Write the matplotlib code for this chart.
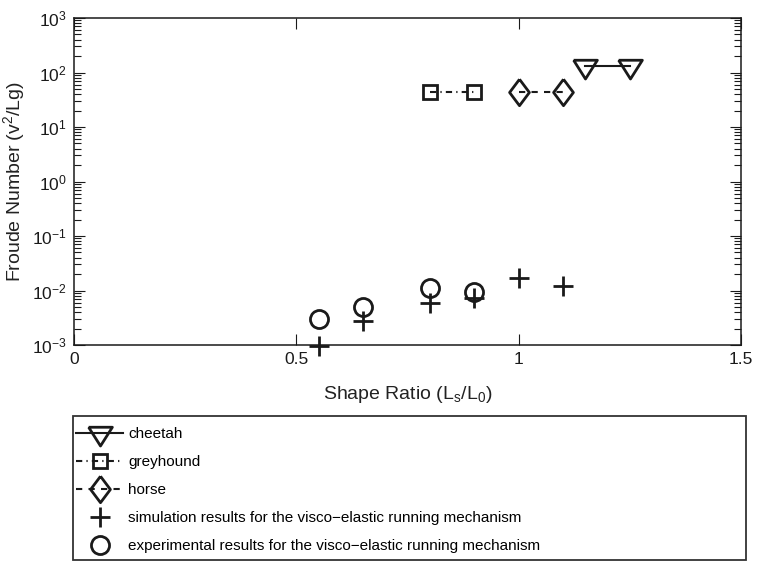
import numpy as np
import matplotlib
matplotlib.use("Agg")
import matplotlib.pyplot as plt
from matplotlib.patches import Rectangle
from matplotlib.ticker import FixedLocator, LogLocator, NullFormatter

plt.rcParams['font.family'] = ['Liberation Sans', 'DejaVu Sans']
plt.rcParams['mathtext.fontset'] = 'custom'
plt.rcParams['mathtext.rm'] = 'Liberation Sans'
plt.rcParams['mathtext.it'] = 'Liberation Sans'

# data
cheetah_x = [1.15, 1.25]
cheetah_y = [130, 130]
greyhound_x = [0.8, 0.9]
greyhound_y = [44, 44]
horse_x = [1.0, 1.1]
horse_y = [43, 43]
sim_x = [0.55, 0.65, 0.8, 0.9, 1.0, 1.1]
sim_y = [0.00095, 0.0028, 0.0058, 0.0072, 0.0168, 0.0121]
exp_x = [0.55, 0.65, 0.8, 0.9]
exp_y = [0.0030, 0.0050, 0.0113, 0.0093]

xticks = [0, 0.5, 1, 1.5]

# matlab style markers (triangle centred on its centroid, tall diamond)
tri = [(-0.95, 0.5), (0.95, 0.5), (0.0, -1.0), (-0.95, 0.5)]
dia = [(0, 1), (0.75, 0), (0, -1), (-0.75, 0), (0, 1)]

W, H = 766, 562
fig = plt.figure(figsize=(W/100, H/100), dpi=100)
ax = fig.add_axes([74/W, 1-345/H, (741-74)/W, (345-18)/H])

k = '#1a1a1a'
h1, = ax.plot(cheetah_x, cheetah_y, '-', color=k, lw=1.5, marker=tri, ms=18,
              mfc='none', mew=2, label='cheetah', clip_on=False)
h2, = ax.plot(greyhound_x, greyhound_y, color=k, lw=1.5, ls=(0, (3, 2, 0.6, 2)),
              marker='s', ms=10.5, mfc='none', mew=2, label='greyhound', clip_on=False)
h3, = ax.plot(horse_x, horse_y, color=k, lw=1.5, ls=(0, (3, 3)), marker=dia, ms=19,
              mfc='none', mew=2, label='horse', clip_on=False)
h4, = ax.plot(sim_x, sim_y, ls='none', color=k, marker='+', ms=14, mew=2,
              label='simulation results for the visco\u2212elastic running mechanism',
              clip_on=False)
h5, = ax.plot(exp_x, exp_y, ls='none', color=k, marker='o', ms=13, mfc='none', mew=2,
              label='experimental results for the visco\u2212elastic running mechanism',
              clip_on=False)

ax.set_yscale('log')
ax.set_ylim(1e-3, 1e3)
ax.set_xlim(0, 1.5)
ax.xaxis.set_major_locator(FixedLocator(xticks))
ax.set_xticklabels(['0', '0.5', '1', '1.5'])
ax.yaxis.set_major_locator(LogLocator(base=10, numticks=10))
ax.yaxis.set_minor_locator(LogLocator(base=10, subs=np.arange(2, 10), numticks=20))
ax.yaxis.set_minor_formatter(NullFormatter())

ax.tick_params(which='both', direction='in', top=True, right=True, colors=k,
               labelsize=12.5, width=0.8)
ax.tick_params(which='major', length=8, pad=5)
ax.tick_params(which='minor', length=5)
for s in ax.spines.values():
    s.set_linewidth(1.1)
    s.set_color(k)

ax.set_xlabel('Shape Ratio (L$_\\mathregular{s}$/L$_\\mathregular{0}$)', fontsize=14,
              labelpad=12, color='#222222')
ax.set_ylabel('Froude Number (v$^\\mathregular{2}$/Lg)', fontsize=14, labelpad=4,
              color='#222222')

# legend box drawn separately so the entries can be placed freely inside it
fig.patches.append(Rectangle((73/W, 1-560/H), (746-73)/W, (560-416)/H,
                             transform=fig.transFigure, fill=False,
                             edgecolor='#333333', lw=1.3))
leg = fig.legend(handles=[h1, h2, h3, h4, h5], loc='upper left',
                 bbox_to_anchor=(76/W, 1-427/H), frameon=False,
                 fontsize=11, handlelength=3.1, handletextpad=0.33,
                 labelspacing=0.92, borderpad=0, borderaxespad=0)

fig.savefig('out.png', dpi=100)
